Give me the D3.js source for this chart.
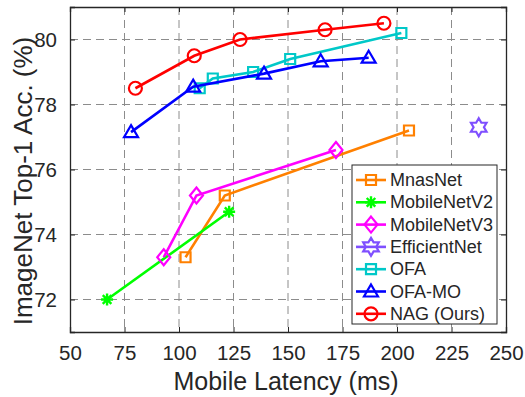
<!DOCTYPE html>
<html><head><meta charset="utf-8">
<script src="https://cdn.jsdelivr.net/npm/d3@7"></script>
<style>body{margin:0;background:#fff}svg{display:block}</style>
</head><body><svg id="c" width="525" height="397"></svg>
<script>
const xTicks=[50,75,100,125,150,175,200,225,250];
const yTicks=[72,74,76,78,80];
const names=["MnasNet","MobileNetV2","MobileNetV3","EfficientNet","OFA","OFA-MO","NAG (Ours)"];
const mnasX=[103,121,205.5], mnasY=[73.3,75.2,77.2];
const mv2X=[67,123], mv2Y=[72.0,74.7];
const mv3X=[93,108,172], mv3Y=[73.3,75.2,76.6];
const effX=[237.5], effY=[77.3];
const ofaX=[109.5,115.5,134,151,202], ofaY=[78.5,78.8,79.0,79.4,80.2];
const ofamoX=[78,106.5,139,165,187], ofamoY=[77.15,78.55,78.95,79.33,79.44];
const nagX=[80,107,128,167,194], nagY=[78.5,79.5,80.0,80.3,80.5];
const colors=["#ff8000","#00ff00","#ff00ff","#7f4fff","#00c8c8","#0000ff","#ff0000"];
const markers=["square","asterisk","diamond","hexagram","square","triangle","circle"];
const series=[[mnasX,mnasY],[mv2X,mv2Y],[mv3X,mv3Y],[effX,effY],[ofaX,ofaY],[ofamoX,ofamoY],[nagX,nagY]];

const L=70,R=506,T=7,B=332;
const x=d3.scaleLinear().domain([50,250]).range([L,R]);
const y=d3.scaleLinear().domain([71,81]).range([B,T]);
const svg=d3.select("#c");
const font="'Liberation Sans',Arial,Helvetica,sans-serif";
const ink="#262626";

// grid
const g=svg.append("g");
g.selectAll(".vg").data(xTicks.slice(1,-1)).enter().append("line")
 .attr("x1",d=>x(d)).attr("x2",d=>x(d)).attr("y1",T).attr("y2",B)
 .attr("stroke","#8c8c8c").attr("stroke-width",1).attr("stroke-dasharray","8,5");
g.selectAll(".hg").data(yTicks).enter().append("line")
 .attr("y1",d=>y(d)).attr("y2",d=>y(d)).attr("x1",L).attr("x2",R)
 .attr("stroke","#8c8c8c").attr("stroke-width",1).attr("stroke-dasharray","8,5");

// axes
svg.append("g").attr("transform",`translate(0,${B})`)
 .call(d3.axisBottom(x).tickValues(xTicks).tickSize(-5).tickPadding(13));
svg.append("g").attr("transform",`translate(${L},0)`)
 .call(d3.axisLeft(y).tickValues(yTicks).tickSize(-5).tickPadding(13));
svg.append("g").attr("transform",`translate(0,${T})`)
 .call(d3.axisTop(x).tickValues(xTicks).tickSize(-5).tickFormat(""));
svg.append("g").attr("transform",`translate(${R},0)`)
 .call(d3.axisRight(y).tickValues(yTicks).tickSize(-5).tickFormat(""));
svg.selectAll(".domain").attr("stroke",ink).attr("stroke-width",1.3);
svg.selectAll(".tick line").attr("stroke",ink).attr("stroke-width",1);
svg.selectAll(".tick text").attr("fill",ink).style("font-family",font).style("font-size","20.5px");

svg.append("text").attr("x",(L+R)/2-2).attr("y",390).attr("text-anchor","middle")
 .attr("fill",ink).style("font-family",font).style("font-size","25px").text("Mobile Latency (ms)");
svg.append("text").attr("transform",`translate(32,181) rotate(-90)`).attr("text-anchor","middle")
 .attr("fill",ink).style("font-family",font).style("font-size","26px").text("ImageNet Top-1 Acc. (%)");

function markerPath(m){
  if(m==="square") return "M-5,-5H5V5H-5Z";
  if(m==="diamond") return "M0,-8L6.5,0L0,8L-6.5,0Z";
  if(m==="triangle") return "M0,-7L7,5L-7,5Z";
  if(m==="asterisk") return "M-6,0H6M0,-6V6M-4.3,-4.3L4.3,4.3M-4.3,4.3L4.3,-4.3";
  if(m==="hexagram"){
    const ro=9,ri=5.2;let p="";
    for(let i=0;i<12;i++){const a=-Math.PI/2+i*Math.PI/6;const r=i%2?ri:ro;
      p+=(i?"L":"M")+(r*Math.cos(a)).toFixed(2)+","+(r*Math.sin(a)).toFixed(2);}
    return p+"Z";
  }
}
function drawMarker(sel,m,c,cx,cy){
  if(m==="circle"){
    sel.append("circle").attr("cx",cx).attr("cy",cy).attr("r",6.5)
     .attr("fill","none").attr("stroke",c).attr("stroke-width",2.2);
  } else {
    sel.append("path").attr("d",markerPath(m)).attr("transform",`translate(${cx},${cy})`)
     .attr("fill","none").attr("stroke",c).attr("stroke-width",m==="asterisk"?2.4:2.2)
     .attr("stroke-linejoin","miter");
  }
}
const line=d3.line().x(d=>x(d[0])).y(d=>y(d[1]));
series.forEach((s,i)=>{
  const pts=s[0].map((v,j)=>[v,s[1][j]]);
  const gg=svg.append("g");
  if(pts.length>1) gg.append("path").attr("d",line(pts)).attr("fill","none")
    .attr("stroke",colors[i]).attr("stroke-width",2.6);
  pts.forEach(p=>drawMarker(gg,markers[i],colors[i],x(p[0]),y(p[1])));
});

// legend
const lg=svg.append("g");
lg.append("rect").attr("x",352).attr("y",165).attr("width",145).attr("height",159)
 .attr("fill","#fff").attr("stroke",ink).attr("stroke-width",1);
names.forEach((n,i)=>{
  const yy=180+i*22.3;
  lg.append("line").attr("x1",356).attr("x2",386).attr("y1",yy).attr("y2",yy)
   .attr("stroke",colors[i]).attr("stroke-width",2.6);
  drawMarker(lg,markers[i],colors[i],371,yy);
  lg.append("text").attr("x",390).attr("y",yy+6).attr("fill",ink)
   .style("font-family",font).style("font-size","18px").text(n);
});
</script></body></html>
